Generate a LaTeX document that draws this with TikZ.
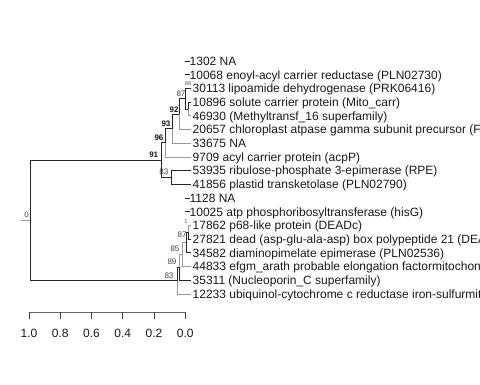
\documentclass[tikz,border=0pt]{standalone}
\usepackage{fontspec}
\setmainfont{Liberation Sans}
\begin{document}
\begin{tikzpicture}[x=1pt,y=-1pt,
  dk/.style={draw=black!85, line width=0.8pt},
  lt/.style={draw=black!40, line width=0.8pt},
  leaf/.style={anchor=base west, inner sep=0pt, font=\fontsize{12}{14}\selectfont, text=black!90},
  nl/.style={inner sep=0pt, font=\fontsize{8}{9}\selectfont, text=black!75},
  nlb/.style={inner sep=0pt, font=\fontsize{8}{9}\selectfont\bfseries, text=black!90},
  tiny/.style={inner sep=0pt, font=\fontsize{5.5}{6}\selectfont, text=black!70},
  axl/.style={inner sep=0pt, font=\fontsize{12}{14}\selectfont, text=black!90}]
\useasboundingbox (0,0) rectangle (480,384);

% ---------- leaf tips ----------
\coordinate (l2) at (190.5,88.4);
\coordinate (l3) at (190.5,102.1);
\coordinate (l4) at (190.5,115.8);
\coordinate (l5) at (190.5,129.5);
\coordinate (l6) at (190.5,143.2);
\coordinate (l7) at (190.5,156.9);
\coordinate (l8) at (190.5,170.6);
\coordinate (l9) at (190.5,184.3);
\coordinate (l12) at (190.5,225.4);
\coordinate (l13) at (190.5,239.1);
\coordinate (l14) at (190.5,252.8);
\coordinate (l15) at (190.5,266.5);
\coordinate (l16) at (190.5,280.2);
\coordinate (l17) at (190.5,293.9);

% ---------- internal nodes ----------
\coordinate (nst) at (188,108.95);
\coordinate (n87) at (185,98.675);
\coordinate (n92) at (179,114.09);
\coordinate (n93) at (172,128.64);
\coordinate (n96) at (165,142.77);
\coordinate (n83a) at (171,177.45);
\coordinate (n91) at (161,160.11);
\coordinate (nsb) at (188.5,232.25);
\coordinate (n87b) at (186,242.53);
\coordinate (n85) at (182,254.51);
\coordinate (n89) at (179.5,267.36);
\coordinate (n83b) at (177,280.63);
\coordinate (root) at (30,220.37);
\coordinate (stub) at (20.5,220.37);

% ---------- edges ----------
\draw[lt] (stub) -- (root);
\draw[dk] (root) |- (n91);
\draw[dk] (root) |- (n83b);
\draw[dk] (n91) |- (n96);
\draw[dk] (n91) |- (n83a);
\draw[dk] (n83a) |- (l8);
\draw[dk] (n83a) |- (l9);
\draw[dk] (n96) |- (n93);
\draw[lt] (n96) |- (l7);
\draw[dk] (n93) |- (n92);
\draw[lt] (n93) |- (l6);
\draw[dk] (n92) |- (n87);
\draw[lt] (n92) |- (l5);
\draw[dk] (n87) |- (l2);
\draw[dk] (n87) |- (nst);
\draw[dk] (nst) |- (l3);
\draw[lt] (nst) |- (l4);
\draw[dk] (n83b) |- (n89);
\draw[lt] (n83b) |- (l17);
\draw[lt] (n89) |- (n85);
\draw[dk] (n89) |- (l16);
\draw[lt] (n85) |- (n87b);
\draw[lt] (n85) |- (l15);
\draw[dk] (n87b) |- (nsb);
\draw[dk] (n87b) |- (l14);
\draw[lt] (nsb) |- (l12);
\draw[dk] (nsb) |- (l13);

% ---------- singleton leaves ----------
\coordinate (s0) at (184.5,61);
\coordinate (s1) at (184.5,74.7);
\coordinate (s10) at (184.5,198);
\coordinate (s11) at (184.5,211.7);
\node[leaf] (t0) at (189.5,65.3) {1302 NA};
\node[leaf] (t1) at (189.5,79) {10068 enoyl-acyl carrier reductase (PLN02730)};
\node[leaf] (t10) at (189.5,202.3) {1128 NA};
\node[leaf] (t11) at (189.5,216) {10025 atp phosphoribosyltransferase (hisG)};
\draw[dk] (s0) -- (s0 -| t0.west);
\draw[dk] (s1) -- (s1 -| t1.west);
\draw[dk] (s10) -- (s10 -| t10.west);
\draw[dk] (s11) -- (s11 -| t11.west);

% ---------- leaf labels ----------
\node[leaf] (t2) at (192.5,92.7) {30113 lipoamide dehydrogenase (PRK06416)};
\node[leaf] (t3) at (192.5,106.4) {10896 solute carrier protein (Mito\_carr)};
\node[leaf] (t4) at (192.5,120.1) {46930 (Methyltransf\_16 superfamily)};
\node[leaf] (t5) at (192.5,133.8) {20657 chloroplast atpase gamma subunit precursor (F};
\node[leaf] (t6) at (192.5,147.5) {33675 NA};
\node[leaf] (t7) at (192.5,161.2) {9709 acyl carrier protein (acpP)};
\node[leaf] (t8) at (192.5,174.9) {53935 ribulose-phosphate 3-epimerase (RPE)};
\node[leaf] (t9) at (192.5,188.6) {41856 plastid transketolase (PLN02790)};
\node[leaf] (t12) at (192.5,229.7) {17862 p68-like protein (DEADc)};
\node[leaf] (t13) at (192.5,243.4) {27821 dead (asp-glu-ala-asp) box polypeptide 21 (DEA};
\node[leaf] (t14) at (192.5,257.1) {34582 diaminopimelate epimerase (PLN02536)};
\node[leaf] (t15) at (192.5,270.8) {44833 efgm\_arath probable elongation factormitochon};
\node[leaf] (t16) at (192.5,284.5) {35311 (Nucleoporin\_C superfamily)};
\node[leaf] (t17) at (192.5,298.2) {12233 ubiquinol-cytochrome c reductase iron-sulfurmit};

% ---------- node labels ----------
\node[nl] (b0) at (26.7,214.5) {0};
\node[nlb] (b91) at (153.7,154.8) {91};
\node[nl] (b83a) at (163.8,171.8) {83};
\node[nlb] (b96) at (159,138) {96};
\node[nlb] (b93) at (166,123.5) {93};
\node[nlb] (b92) at (174,109.5) {92};
\node[nl] (b87) at (181,93.8) {87};
\node[tiny] (b88) at (188,83.5) {88};
\node[tiny] (b1) at (186,221.5) {1};
\node[nl] (b87b) at (182,235) {87};
\node[nl] (b85) at (175,249) {85};
\node[nl] (b89) at (172,262) {89};
\node[nl] (b83b) at (169,276) {83};

% ---------- axis ----------
\coordinate (ax0) at (29,312);
\coordinate (ax1) at (185.3,312);
\draw[draw=black!60, line width=0.8pt] (ax0) -- (ax1);
\foreach \xv/\lab in {29/1.0, 60.3/0.8, 91.5/0.6, 122.8/0.4, 154/0.2, 185.3/0.0}{
  \draw[draw=black!75, line width=0.8pt] (\xv,312) -- (\xv,318.5);
  \node[axl] at (\xv,333) {\lab};
}
\end{tikzpicture}
\end{document}
